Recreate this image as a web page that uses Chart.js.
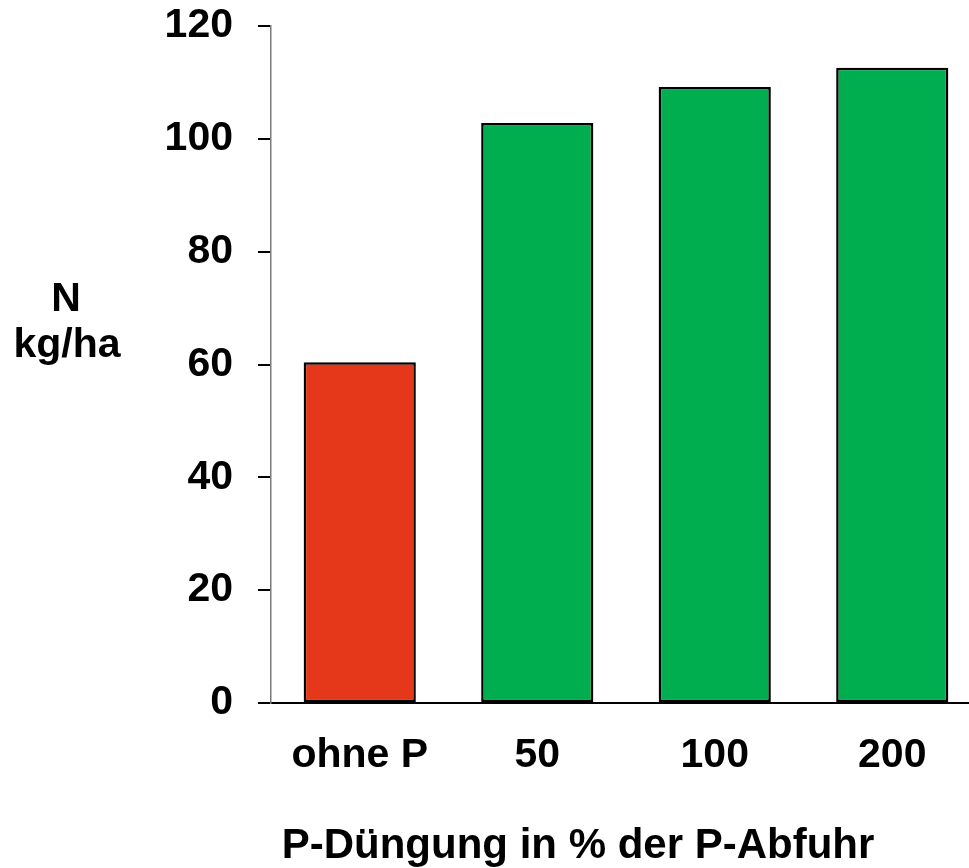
<!DOCTYPE html>
<html>
<head>
<meta charset="utf-8">
<script src="https://cdn.jsdelivr.net/npm/chart.js@4/dist/chart.umd.min.js"></script>
<style>
  html, body { margin: 0; padding: 0; background: #fff; overflow: hidden; }
  #wrap { position: absolute; left: 0; top: 0; width: 981px; height: 868px; }
</style>
</head>
<body>
<div id="wrap"><canvas id="chart"></canvas></div>
<script>
// P-Düngung (Stufen) und N-Entzug in kg/ha
const categories = ['ohne P', '50', '100', '200'];
const nValues = [60.4, 102.8, 109.2, 112.6];
const barColors = ['#E5371A', '#00AD4F', '#00AD4F', '#00AD4F'];
const yTicks = [0, 20, 40, 60, 80, 100, 120];
const xTitle = 'P-Düngung in % der P-Abfuhr';
const yTitleLines = ['N', 'kg/ha'];

const FONT = '"Liberation Sans", Arial, sans-serif';
const FONT_SIZE = 41;

// Achsentitel als Text auf der Zeichenfläche
const axisTitles = {
  id: 'axisTitles',
  afterDraw(chart) {
    const ctx = chart.ctx;
    ctx.save();
    ctx.fillStyle = '#000';
    ctx.textAlign = 'center';
    ctx.textBaseline = 'alphabetic';
    ctx.font = 'bold 42px ' + FONT;
    ctx.fillText(xTitle, 578, 858);
    ctx.font = 'bold ' + FONT_SIZE + 'px ' + FONT;
    ctx.fillText(yTitleLines[0], 66, 311);
    ctx.fillText(yTitleLines[1], 67, 357);
    ctx.restore();
  }
};

new Chart(document.getElementById('chart'), {
  type: 'bar',
  data: {
    labels: categories,
    datasets: [{
      data: nValues,
      backgroundColor: barColors,
      borderColor: '#000',
      borderWidth: 2.5,
      borderSkipped: false,
      categoryPercentage: 1,
      barPercentage: 0.632
    }]
  },
  options: {
    responsive: true,
    maintainAspectRatio: false,
    animation: false,
    layout: { padding: { top: 26, right: 0, bottom: 0, left: 0 } },
    plugins: { legend: { display: false }, tooltip: { enabled: false }, title: { display: false } },
    scales: {
      x: {
        grid: { display: true, drawOnChartArea: false, drawTicks: false },
        border: { display: true, color: '#000', width: 2 },
        ticks: {
          color: '#000',
          font: { family: FONT, size: FONT_SIZE, weight: 'bold' },
          padding: 28,
          maxRotation: 0,
          autoSkip: false
        },
        afterFit(scale) {
          scale.height = 165;
          scale.paddingLeft = 0;
          scale.paddingRight = 0;
        }
      },
      y: {
        min: 0,
        max: 120,
        afterBuildTicks(scale) { scale.ticks = yTicks.map(v => ({ value: v })); },
        grid: { display: true, drawOnChartArea: false, drawTicks: true, tickLength: 13, color: '#000', lineWidth: 2 },
        border: { display: true, color: '#7a7a7a', width: 1.5 },
        ticks: {
          color: '#000',
          font: { family: FONT, size: FONT_SIZE, weight: 'bold' },
          padding: 25
        },
        afterFit(scale) {
          scale.width = 271;
          scale.paddingTop = 0;
          scale.paddingBottom = 0;
        }
      }
    }
  },
  plugins: [axisTitles]
});
</script>
</body>
</html>
